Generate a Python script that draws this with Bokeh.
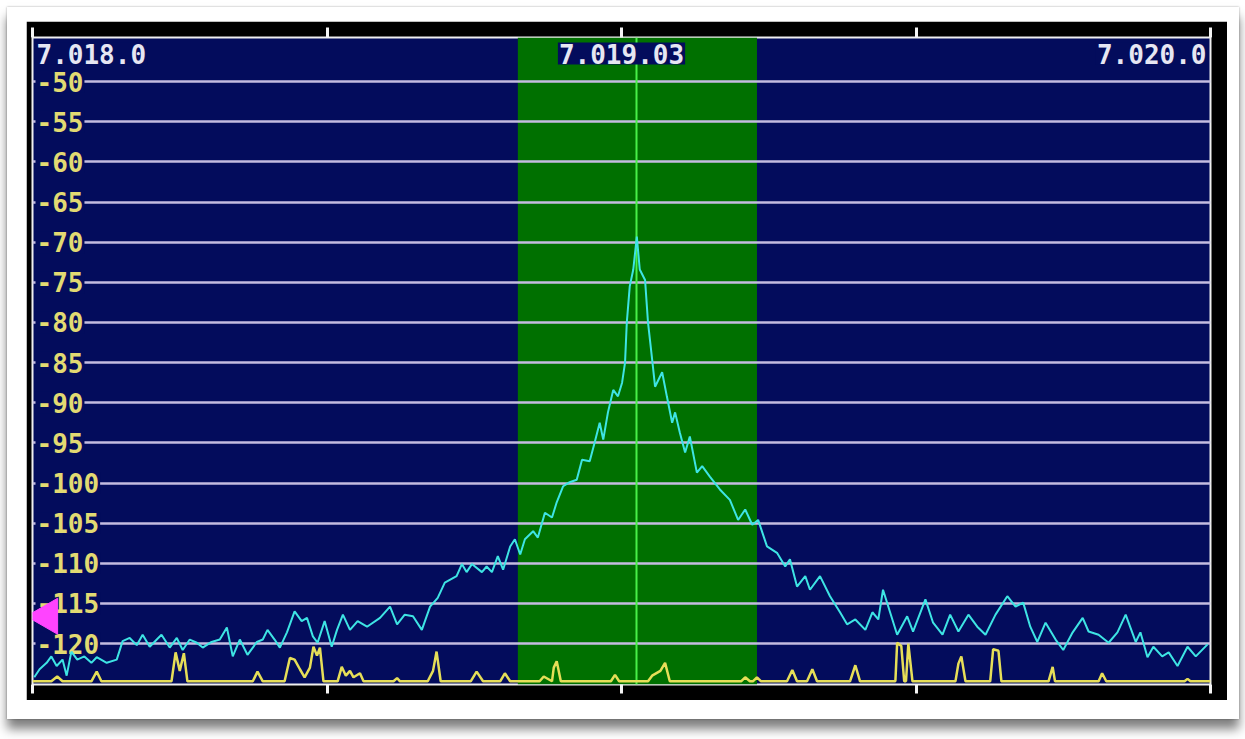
import math
from bokeh.plotting import figure
from bokeh.models import LinearAxis, FixedTicker, BoxAnnotation, Range1d, CustomLabelingPolicy
from bokeh.layouts import column
from bokeh.core.properties import value
from bokeh.embed import file_html
from bokeh.resources import INLINE

# ---------------- data ----------------
X_START, X_END = 7018.0, 7020.0          # kHz
Y_BOTTOM, Y_TOP = -125.1, -44.5          # dB
TICKS_X = [7018.0, 7018.5, 7019.0, 7019.5, 7020.0]
FREQ_LABEL_POS = [7018.0, 7019.0, 7020.0]
FREQ_LABELS = ["7.018.0", "7.019.03", "7.020.0"]
FREQ_ALIGN = ["left", "center", "right"]
DB_LEVELS = [-50, -55, -60, -65, -70, -75, -80, -85, -90, -95, -100, -105, -110, -115, -120]
DB_LABELS = [str(v) for v in DB_LEVELS]
TUNE = 7019.026
BAND_LO, BAND_HI = 7018.824, 7019.230
SQUELCH_DB = -116.6
SQUELCH_POS = 7018.025

spec_f = [7018.003, 7018.012, 7018.024, 7018.032, 7018.041, 7018.051, 7018.058, 7018.066,
          7018.076, 7018.088, 7018.100, 7018.109, 7018.126, 7018.143, 7018.153, 7018.165,
          7018.177, 7018.187, 7018.199, 7018.211, 7018.219, 7018.233, 7018.245, 7018.255,
          7018.267, 7018.279, 7018.289, 7018.304, 7018.318, 7018.330, 7018.340, 7018.352,
          7018.365, 7018.381, 7018.391, 7018.399, 7018.411, 7018.420, 7018.432, 7018.445,
          7018.457, 7018.466, 7018.476, 7018.484, 7018.496, 7018.508, 7018.517, 7018.527,
          7018.539, 7018.552, 7018.568, 7018.590, 7018.607, 7018.619, 7018.632, 7018.646,
          7018.661, 7018.675, 7018.688, 7018.700, 7018.720, 7018.729, 7018.737, 7018.746,
          7018.763, 7018.771, 7018.780, 7018.790, 7018.799, 7018.811, 7018.819, 7018.828,
          7018.836, 7018.850, 7018.858, 7018.870, 7018.882, 7018.890, 7018.901, 7018.912,
          7018.924, 7018.933, 7018.946, 7018.955, 7018.963, 7018.969, 7018.977, 7018.986,
          7018.994, 7019.001, 7019.006, 7019.009, 7019.014, 7019.020, 7019.026, 7019.031,
          7019.040, 7019.045, 7019.052, 7019.057, 7019.069, 7019.077, 7019.086, 7019.091,
          7019.099, 7019.108, 7019.116, 7019.128, 7019.137, 7019.150, 7019.167, 7019.184,
          7019.198, 7019.210, 7019.222, 7019.232, 7019.247, 7019.264, 7019.278, 7019.286,
          7019.298, 7019.312, 7019.320, 7019.337, 7019.354, 7019.371, 7019.383, 7019.397,
          7019.414, 7019.426, 7019.436, 7019.444, 7019.456, 7019.468, 7019.485, 7019.495,
          7019.516, 7019.529, 7019.545, 7019.558, 7019.572, 7019.589, 7019.604, 7019.618,
          7019.635, 7019.655, 7019.669, 7019.682, 7019.694, 7019.706, 7019.720, 7019.737,
          7019.750, 7019.766, 7019.783, 7019.793, 7019.810, 7019.827, 7019.842, 7019.856,
          7019.873, 7019.881, 7019.893, 7019.903, 7019.918, 7019.929, 7019.944, 7019.961,
          7019.975, 7019.995]
spec_db = [-124.2, -123.2, -122.4, -121.6, -122.8, -122.0, -124.0, -121.0,
           -122.0, -121.6, -122.4, -121.7, -122.4, -122.0, -119.7, -119.3,
           -120.2, -118.9, -120.4, -119.5, -118.9, -120.5, -119.3, -120.8,
           -119.5, -119.9, -120.5, -119.8, -119.5, -118.0, -121.6, -119.5,
           -121.4, -119.8, -119.5, -118.3, -119.5, -120.5, -118.6, -116.0,
           -117.2, -116.8, -119.1, -119.9, -117.2, -120.4, -118.3, -116.4,
           -118.3, -117.2, -117.9, -116.8, -115.4, -117.6, -116.4, -116.6,
           -118.3, -115.4, -114.3, -112.4, -111.6, -110.1, -111.1, -110.1,
           -111.1, -110.4, -111.1, -109.1, -110.8, -107.9, -107.0, -108.9,
           -107.0, -106.0, -106.8, -103.7, -104.3, -102.4, -100.4, -99.9,
           -99.6, -97.1, -97.3, -94.8, -92.5, -94.6, -91.2, -88.4,
           -89.2, -87.5, -85.0, -80.0, -75.5, -73.4, -69.3, -73.4,
           -74.7, -80.0, -84.6, -88.0, -86.2, -89.2, -92.5, -91.2,
           -93.7, -96.2, -94.2, -98.7, -97.9, -99.2, -100.8, -102.1,
           -104.6, -103.3, -105.2, -104.6, -107.9, -108.7, -110.4, -109.5,
           -112.9, -111.6, -113.3, -111.6, -114.1, -116.1, -117.6, -117.0,
           -118.3, -116.1, -117.0, -113.3, -116.1, -118.9, -116.6, -118.5,
           -114.5, -117.4, -118.9, -116.4, -118.5, -116.4, -117.9, -118.9,
           -116.4, -114.1, -115.4, -114.9, -117.9, -119.8, -117.4, -119.5,
           -120.8, -118.6, -116.8, -118.5, -118.9, -119.9, -118.6, -116.4,
           -119.8, -118.6, -121.7, -120.4, -121.6, -121.1, -122.8, -120.4,
           -121.6, -120.1]

avg_f = [7018.000, 7018.032, 7018.042, 7018.051, 7018.100, 7018.109, 7018.117,
         7018.236, 7018.243, 7018.250, 7018.257, 7018.263,
         7018.374, 7018.382, 7018.391,
         7018.428, 7018.437, 7018.445, 7018.454, 7018.462, 7018.471, 7018.477, 7018.483,
         7018.488, 7018.494,
         7018.518, 7018.525, 7018.532, 7018.539, 7018.545, 7018.556, 7018.562,
         7018.613, 7018.619, 7018.624,
         7018.671, 7018.680, 7018.686, 7018.693,
         7018.744, 7018.754, 7018.765,
         7018.794, 7018.802, 7018.811,
         7018.861, 7018.868, 7018.882, 7018.885, 7018.890, 7018.897,
         7018.982, 7018.989, 7018.996,
         7019.045, 7019.052, 7019.066, 7019.074, 7019.082,
         7019.203, 7019.210, 7019.218, 7019.223, 7019.230, 7019.237,
         7019.281, 7019.290, 7019.298,
         7019.315, 7019.324, 7019.332,
         7019.388, 7019.397, 7019.405,
         7019.465, 7019.468, 7019.475, 7019.480, 7019.483, 7019.487, 7019.494,
         7019.567, 7019.572, 7019.577, 7019.584,
         7019.626, 7019.631, 7019.640, 7019.645,
         7019.725, 7019.732, 7019.736,
         7019.810, 7019.816, 7019.823,
         7019.956, 7019.961, 7019.966, 7020.000]
avg_db = [-124.7, -124.7, -124.1, -124.7, -124.7, -123.5, -124.7,
          -124.7, -121.1, -123.4, -121.2, -124.7,
          -124.7, -123.5, -124.7,
          -124.7, -121.8, -122.0, -123.2, -124.2, -123.0, -120.4, -121.5,
          -120.5, -124.7,
          -124.7, -122.9, -124.0, -123.4, -124.2, -123.7, -124.7,
          -124.7, -124.3, -124.7,
          -124.7, -123.4, -121.0, -124.7,
          -124.7, -123.5, -124.7,
          -124.7, -123.7, -124.7,
          -124.7, -124.1, -124.7, -123.0, -122.2, -124.7,
          -124.7, -123.9, -124.7,
          -124.7, -124.0, -123.4, -122.4, -124.7,
          -124.7, -124.2, -124.7, -124.7, -124.2, -124.7,
          -124.7, -123.3, -124.7,
          -124.7, -123.2, -124.7,
          -124.7, -122.7, -124.7,
          -124.7, -119.9, -120.3, -124.7, -124.7, -120.0, -124.7,
          -124.7, -122.5, -121.6, -124.7,
          -124.7, -120.7, -120.9, -124.7,
          -124.7, -122.9, -124.7,
          -124.7, -123.7, -124.7,
          -124.7, -124.4, -124.7, -124.7]

# ---------------- styles ----------------
NAVY = "#030c5c"
BAND_GREEN = "#007000"
MONO = "DejaVu Sans Mono"
FONT_SIZE = "26px"

p = figure(frame_width=1178, frame_height=647,
           x_range=Range1d(X_START, X_END), y_range=Range1d(Y_BOTTOM, Y_TOP),
           x_axis_location=None, y_axis_location=None,
           output_backend="svg", toolbar_location=None,
           min_border_left=6, min_border_right=17, min_border_top=16, min_border_bottom=16,
           background_fill_color=NAVY, border_fill_color="black")
p.grid.visible = False
p.outline_line_color = "#f0f0f0"
p.outline_line_width = 2
p.margin = (14, 12, 19, 19)

hide_all = CustomLabelingPolicy(code="""
    const all = [...indices]
    for (const i of all) indices.unset(i)
    return indices
""")

for loc in ("above", "below"):
    ax = LinearAxis(ticker=FixedTicker(ticks=TICKS_X, minor_ticks=[]),
                    axis_line_color=None, major_tick_in=0,
                    major_tick_out=10 if loc == "above" else 9,
                    major_tick_line_color="#f4f4f4", major_tick_line_width=3,
                    major_label_text_font_size="1px", major_label_standoff=0,
                    major_label_policy=hide_all)
    p.add_layout(ax, loc)

# pass band
p.add_layout(BoxAnnotation(left=BAND_LO, right=BAND_HI, fill_color=BAND_GREEN,
                           fill_alpha=1.0, line_color=None, level="underlay"))

# dB grid lines
p.hspan(y=DB_LEVELS, line_color="#c4bce0", line_width=2.4)

# tuning line
p.vspan(x=[TUNE], line_color="#48f048", line_width=2)

# dB labels
p.text(x=[X_START] * len(DB_LEVELS), y=DB_LEVELS, text=DB_LABELS,
       x_offset=3, text_baseline="middle", text_align="left",
       text_font=value(MONO), text_font_size=FONT_SIZE, text_font_style="bold",
       text_color="#e2da72", background_fill_color=NAVY, padding=1)

# frequency labels
p.text(x=FREQ_LABEL_POS, y=[Y_TOP] * len(FREQ_LABEL_POS), text=FREQ_LABELS,
       x_offset=[3, 0, -3], y_offset=5, text_baseline="top", text_align=FREQ_ALIGN,
       text_font=value(MONO), text_font_size=FONT_SIZE, text_font_style="bold",
       text_color="#e6e6f2", background_fill_color=NAVY, padding=1)

# average trace (yellow) and spectrum (cyan)
p.line(avg_f, avg_db, line_color="#e6de58", line_width=2.5)
p.line(spec_f, spec_db, line_color="#3ee4e4", line_width=2)

# squelch marker
p.scatter([SQUELCH_POS], [SQUELCH_DB], marker="triangle", size=36, angle=math.pi / 2,
          fill_color="#ff44ff", line_color="#ff44ff")

layout = column(p, margin=(7, 0, 0, 7),
                styles={"background-color": "white",
                        "box-shadow": "0 0 2px rgba(0,0,0,0.35), 0 10px 10px rgba(0,0,0,0.5)"})

open("out.html", "w").write(file_html(layout, INLINE))
